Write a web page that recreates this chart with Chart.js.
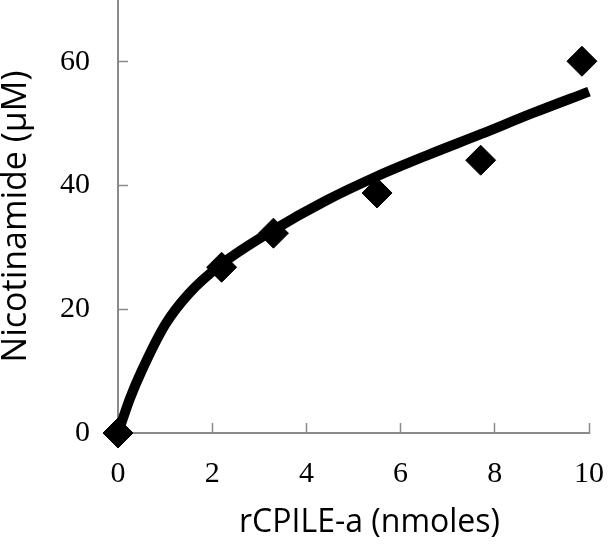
<!DOCTYPE html>
<html>
<head>
<meta charset="utf-8">
<script src="https://cdn.jsdelivr.net/npm/chart.js@4/dist/chart.umd.min.js"></script>
<style>
  html, body { margin: 0; padding: 0; background: #fff; }
  #wrap { width: 610px; height: 544px; }
</style>
</head>
<body>
<div id="wrap"><canvas id="c" width="610" height="544"></canvas></div>
<script>
// Measured data points (diamonds)
const pointX = [0, 2.2, 3.3, 5.5, 7.7, 9.85];
const pointY = [0, 26.8, 32.3, 38.8, 44.1, 60.1];

// Fitted curve
const curveX = [0, 0.25, 0.5, 1, 1.5, 2.2, 3.3, 4.4, 5.5, 6.6, 7.7, 8.8, 10];
const curveY = [0, 5.5, 10, 17.5, 22.5, 27.3, 32.8, 37.5, 41.5, 45, 48.3, 51.7, 55.2];

// Axes
const xTicks = [0, 2, 4, 6, 8, 10];
const yTicks = [0, 20, 40, 60];
const xTitle = 'rCPILE-a (nmoles)';
const yTitle = 'Nicotinamide (\u03BCM)';

const toXY = (xs, ys) => xs.map((x, i) => ({ x: x, y: ys[i] }));

const axisColor = '#8a8a8a';
const tickFont = { family: '"Liberation Serif", "Times New Roman", serif', size: 30, lineHeight: 1 };
const xTitleFont = { family: '"Open Sans", "Noto Sans", sans-serif', size: 32, lineHeight: 1 };
const yTitleFont = { family: '"Open Sans", "Noto Sans", sans-serif', size: 34, lineHeight: 1 };

new Chart(document.getElementById('c'), {
  type: 'scatter',
  data: {
    datasets: [
      {
        label: 'fit',
        data: toXY(curveX, curveY),
        showLine: true,
        borderColor: '#000',
        borderWidth: 10,
        borderCapStyle: 'butt',
        pointRadius: 0,
        cubicInterpolationMode: 'monotone',
        clip: false,
        order: 2
      },
      {
        label: 'data',
        data: toXY(pointX, pointY),
        showLine: false,
        pointStyle: 'rectRot',
        pointRadius: 15,
        pointBackgroundColor: '#000',
        pointBorderColor: '#000',
        pointBorderWidth: 1,
        clip: false,
        order: 1
      }
    ]
  },
  options: {
    responsive: false,
    animation: false,
    devicePixelRatio: 1,
    layout: { autoPadding: false, padding: { top: 0, right: 21, left: 0, bottom: 0 } },
    plugins: { legend: { display: false }, tooltip: { enabled: false } },
    scales: {
      x: {
        type: 'linear',
        min: 0, max: 10,
        afterBuildTicks: s => { s.ticks = xTicks.map(v => ({ value: v })); },
        afterFit: s => { s.height = 111; s.paddingLeft = 0; s.paddingRight = 0; },
        border: { color: axisColor, width: 2 },
        grid: { drawOnChartArea: false, tickLength: -10, tickColor: axisColor, tickWidth: 1.5 },
        ticks: { color: '#000', font: tickFont, padding: 36, maxRotation: 0 },
        title: { display: true, text: '\u2002\u2002' + xTitle, color: '#000', font: xTitleFont, padding: { top: 0, bottom: 5 } }
      },
      y: {
        type: 'linear',
        min: 0, max: 70,
        afterBuildTicks: s => { s.ticks = yTicks.map(v => ({ value: v })); },
        afterFit: s => { s.width = 118; s.paddingTop = 0; s.paddingBottom = 0; },
        border: { color: axisColor, width: 2 },
        grid: { drawOnChartArea: false, tickLength: -10, tickColor: axisColor, tickWidth: 1.5 },
        ticks: { color: '#000', font: tickFont, padding: 38 },
        title: { display: true, text: yTitle, color: '#000', font: yTitleFont, padding: { top: -1, bottom: 0 } }
      }
    }
  }
});
</script>
</body>
</html>
